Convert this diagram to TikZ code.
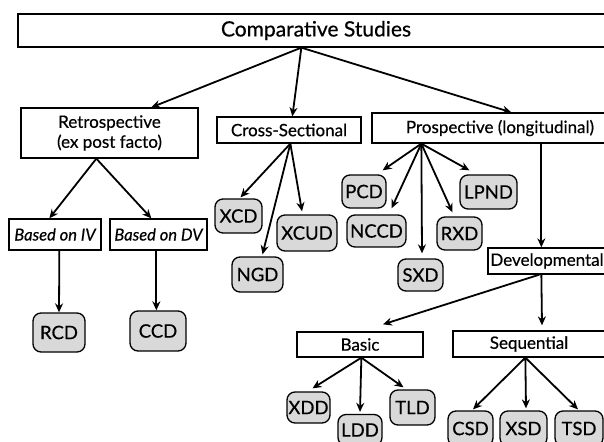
\documentclass[tikz,border=0pt]{standalone}
\usepackage{fontspec}
\setmainfont{Lato}[FakeBold=0.5]
\usetikzlibrary{arrows.meta,calc}
\definecolor{leafgray}{RGB}{217,217,217}
\tikzset{
  catbox/.style={draw=black, line width=1.3pt, fill=white, inner sep=0pt, align=center, font=\fontsize{17}{20}\selectfont},
  leaf/.style={draw=black, line width=1.3pt, fill=leafgray, rounded corners=8pt, inner sep=0pt, font=\fontsize{18.5}{21}\selectfont},
  link/.style={line width=1.8pt, -{Stealth[length=9pt,width=8pt]}}
}
\newcommand{\boxat}[6]{% name, style, cx, cy, w, h, text
  \node[#2, minimum width=#5pt, minimum height=#6pt] (#1) at (#3,#4)}
\begin{document}
\begin{tikzpicture}[x=1pt,y=-1pt]
\path[use as bounding box] (0,0) rectangle (604,441);
\clip (0,0) rectangle (604,441);
\fill[white] (0,0) rectangle (604,441);

% category boxes
\boxat{comp}{catbox, font=\fontsize{21}{24}\selectfont}{316}{30.5}{596}{33} {Comparative Studies};
\boxat{retro}{catbox}{109.5}{133}{177}{50} {Retrospective\\(ex post facto)};
\boxat{cross}{catbox}{289}{130}{144}{26} {Cross-Sectional};
\boxat{prosp}{catbox}{500}{128}{256}{30} {Prospective (longitudinal)};
\boxat{basediv}{catbox, font=\fontsize{16.5}{19}\itshape}{55}{234.5}{92}{31} {Based on IV};
\boxat{basedv}{catbox, font=\fontsize{16.5}{19}\itshape}{158.5}{234.5}{97}{31} {Based on DV};
\boxat{devel}{catbox}{547}{261}{118}{26} {Developmental};
\boxat{basic}{catbox}{360}{344.5}{126}{25} {Basic};
\boxat{seq}{catbox}{529}{344}{152}{26} {Sequential};

% design leaves
\boxat{rcd}{leaf}{59}{332.5}{52}{39} {RCD};
\boxat{ccd}{leaf}{158}{331}{56}{40} {CCD};
\boxat{xcd}{leaf}{238.5}{216}{47}{34} {XCD};
\boxat{ngd}{leaf}{257.5}{274.5}{51}{35} {NGD};
\boxat{xcud}{leaf}{307}{233}{60}{36} {XCUD};
\boxat{pcd}{leaf}{364}{191.5}{44}{33} {PCD};
\boxat{nccd}{leaf}{376.5}{231}{59}{32} {NCCD};
\boxat{sxd}{leaf}{420.5}{275}{45}{32} {SXD};
\boxat{rxd}{leaf}{459.5}{233.5}{45}{33} {RXD};
\boxat{lpnd}{leaf}{488.5}{192}{57}{34} {LPND};
\boxat{xdd}{leaf}{308.5}{407.5}{43}{31} {XDD};
\boxat{ldd}{leaf}{360}{430}{44}{31} {LDD};
\boxat{tld}{leaf}{412.5}{407.5}{45}{35} {TLD};
\boxat{csd}{leaf}{470.5}{428.5}{45}{35} {CSD};
\boxat{xsd}{leaf}{523.5}{428.5}{47}{35} {XSD};
\boxat{tsd}{leaf}{579}{428.5}{48}{35} {TSD};

% fan-out points on the parents' lower edges
\coordinate (cfan) at ($(comp.south west)+(284,0)$);
\coordinate (rfan) at ($(retro.south west)+(76,0)$);
\coordinate (csfan) at ($(cross.south west)+(74,0)$);
\coordinate (pfan) at ($(prosp.south west)+(50,0)$);
\coordinate (dfan) at ($(devel.south west)+(52,0)$);
\coordinate (bfan) at ($(basic.south west)+(65,0)$);
\coordinate (sfan) at ($(seq.south west)+(73,0)$);

% top level
\draw[link] (cfan) -- ($(retro.north west)+(131,0)$);
\draw[link] (cfan) -- ($(cross.north west)+(76,0)$);
\draw[link] (cfan) -- ($(prosp.north west)+(140,0)$);

% retrospective branch
\draw[link] (rfan) -- ($(basediv.north west)+(41,0)$);
\draw[link] (rfan) -- ($(basedv.north west)+(42,0)$);
\draw[link] ($(basediv.south west)+(51,0)$) -- (rcd.north);
\draw[link] ($(basedv.south west)+(47,0)$) -- ($(ccd.north west)+(27,0)$);

% cross-sectional branch
\draw[link] (csfan) -- ($(xcd.north)+(2,-1)$);
\draw[link] (csfan) -- ($(ngd.north)+(5,-2)$);
\draw[link] (csfan) -- ($(xcud.north)+(-5,-3)$);

% prospective branch
\draw[link] (pfan) -- ($(pcd.north east)+(-4,-4)$);
\draw[link] (pfan) -- ($(nccd.north)+(15,-6)$);
\draw[link] (pfan) -- ($(sxd.north)+(1.5,-5)$);
\draw[link] (pfan) -- ($(rxd.north)+(-7,-4)$);
\draw[link] (pfan) -- ($(lpnd.north west)+(10,-4)$);
\draw[link] ($(prosp.south west)+(170,0)$) -- ($(devel.north west)+(54,0)$);

% developmental branch
\draw[link] (dfan) -- ($(basic.north)+(23,-7)$);
\draw[link] ($(devel.south west)+(54,0)$) -- ($(seq.north)+(13,-5)$);

% basic and sequential designs
\draw[link] (bfan) -- ($(xdd.north)+(4,-3)$);
\draw[link] (bfan) -- ($(ldd.north)+(0,-2)$);
\draw[link] (bfan) -- ($(tld.north)+(-9,-2)$);
\draw[link] (sfan) -- ($(csd.north)+(2.5,-1)$);
\draw[link] (sfan) -- ($(xsd.north)+(2.5,-2)$);
\draw[link] (sfan) -- ($(tsd.north)+(-1,-1)$);
\end{tikzpicture}
\end{document}
